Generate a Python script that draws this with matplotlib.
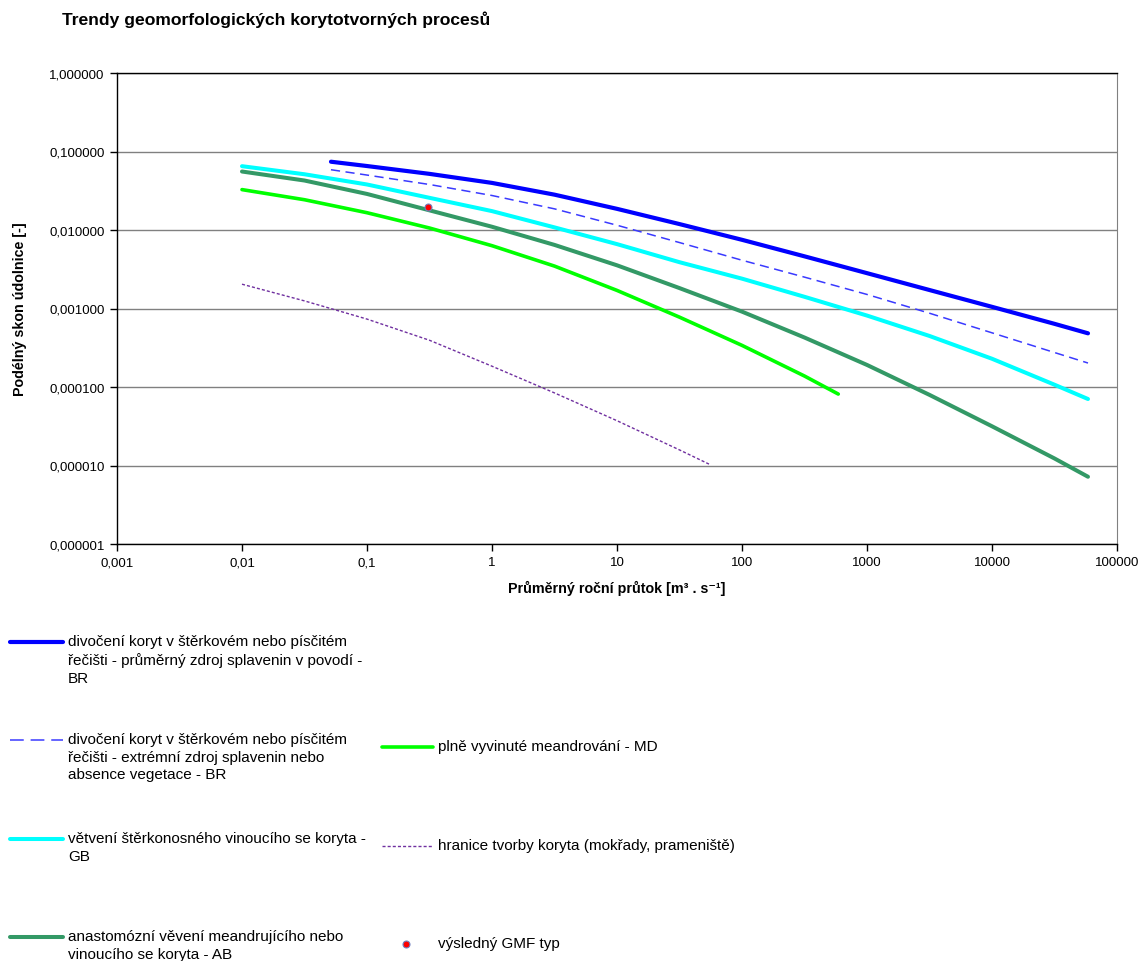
import matplotlib
matplotlib.use('Agg')
import matplotlib.pyplot as plt
from matplotlib.lines import Line2D
from matplotlib.ticker import NullLocator

plt.rcParams['font.family'] = ['Liberation Sans', 'DejaVu Sans']

# ---------------- data ----------------
x_br = [0.0515, 0.1, 0.316, 1, 3.16, 10, 31.6, 100, 316, 1000, 3160, 10000, 31600, 58600]
y_br_avg = [0.0741, 0.0653, 0.0519, 0.0398, 0.0282, 0.0186, 0.0119, 0.0075, 0.00462,
            0.00282, 0.00172, 0.00105, 0.000638, 0.000483]
y_br_ext = [0.0586, 0.0501, 0.0380, 0.0275, 0.0186, 0.0115, 0.00692, 0.00412, 0.00251,
            0.00151, 0.000871, 0.000490, 0.000275, 0.000202]

x_long = [0.01, 0.0316, 0.1, 0.316, 1, 3.16, 10, 31.6, 100, 316, 1000, 3160, 10000, 31600, 58600]
y_gb = [0.0650, 0.0513, 0.0380, 0.0257, 0.0174, 0.0108, 0.00661, 0.00389, 0.00240,
        0.00141, 0.000813, 0.000447, 0.000229, 0.000107, 0.0000703]
y_ab = [0.0556, 0.0427, 0.0288, 0.0178, 0.0110, 0.00646, 0.00355, 0.00182, 0.000912,
        0.000427, 0.000191, 0.0000794, 0.0000316, 0.0000123, 0.00000719]

x_md = [0.01, 0.0316, 0.1, 0.316, 1, 3.16, 10, 31.6, 100, 316, 589]
y_md = [0.0327, 0.0243, 0.0166, 0.0106, 0.00631, 0.00347, 0.00170, 0.000776,
        0.000339, 0.000138, 0.0000813]

x_lim = [0.01, 0.0316, 0.1, 0.316, 1, 3.16, 10, 31.6, 56]
y_lim = [0.00204, 0.00125, 0.000733, 0.000394, 0.000184, 0.0000841, 0.0000372,
         0.0000158, 0.0000102]

gmf_x = [0.31]
gmf_y = [0.0198]

x_ticks = [0.001, 0.01, 0.1, 1, 10, 100, 1000, 10000, 100000]
x_tick_labels = ['0,001', '0,01', '0,1', '1', '10', '100', '1000', '10000', '100000']
y_ticks = [1e-6, 1e-5, 1e-4, 1e-3, 1e-2, 1e-1, 1]
y_tick_labels = ['0,000001', '0,000010', '0,000100', '0,001000', '0,010000', '0,100000', '1,000000']

labels = [
    'divočení koryt v štěrkovém nebo písčitém\nřečišti - průměrný zdroj splavenin v povodí -\nBR',
    'divočení koryt v štěrkovém nebo písčitém\nřečišti - extrémní zdroj splavenin nebo\nabsence vegetace - BR',
    'větvení štěrkonosného vinoucího se koryta -\nGB',
    'anastomózní věvení meandrujícího nebo\nvinoucího se koryta - AB',
    'plně vyvinuté meandrování - MD',
    'hranice tvorby koryta (mokřady, prameniště)',
    'výsledný GMF typ',
]

# ---------------- styles ----------------
styles = [
    dict(color='#0000FF', lw=3.0, solid_capstyle='round'),
    dict(color='#3A3AFF', lw=1.1, dashes=(6.0, 3.6)),
    dict(color='#00FFFF', lw=2.9, solid_capstyle='round'),
    dict(color='#339966', lw=2.9, solid_capstyle='round'),
    dict(color='#00FF00', lw=2.6, solid_capstyle='round'),
    dict(color='#7030A0', lw=1.0, dashes=(2.2, 1.5)),
]
legend_dashes = {1: (9.0, 4.5)}
dot_style = dict(marker='o', ls='none', ms=5, mfc='#FF0000', mec='#7080C0', mew=0.8)

W, H = 1144, 962
fig = plt.figure(figsize=(W / 100, H / 100), dpi=100)


def fx(px):
    return px / W


def fy(py):
    return 1 - py / H


ax = fig.add_axes([fx(117), fy(545), (1117 - 117) / W, (545 - 74) / H])
ax.set_xscale('log')
ax.set_yscale('log')
ax.set_xlim(x_ticks[0], x_ticks[-1])
ax.set_ylim(y_ticks[0], y_ticks[-1])

series = [(x_br, y_br_avg), (x_br, y_br_ext), (x_long, y_gb), (x_long, y_ab),
          (x_md, y_md), (x_lim, y_lim)]
for (xs, ys), st in zip(series, styles):
    ax.plot(xs, ys, **st, zorder=3)
ax.plot(gmf_x, gmf_y, **dot_style, zorder=4)

ax.set_xticks(x_ticks)
ax.set_xticklabels(x_tick_labels)
ax.set_yticks(y_ticks)
ax.set_yticklabels(y_tick_labels)
ax.xaxis.set_minor_locator(NullLocator())
ax.yaxis.set_minor_locator(NullLocator())
ax.tick_params(axis='both', direction='out', length=5, width=1, color='#000000',
               labelsize=9.5, pad=4)
ax.yaxis.grid(True, color='#808080', lw=1.0)
ax.set_axisbelow(True)
for s in ['left', 'bottom', 'top']:
    ax.spines[s].set_color('#000000')
    ax.spines[s].set_linewidth(1.0)
ax.spines['right'].set_color('#808080')

ax.set_xlabel('Průměrný roční průtok [m³ . s⁻¹]', fontsize=10.3, fontweight='bold', labelpad=8)
ax.set_ylabel('Podélný skon údolnice [-]', fontsize=10.3, fontweight='bold', labelpad=16)

fig.text(fx(62), fy(20), 'Trendy geomorfologických korytotvorných procesů',
         fontsize=12.6, fontweight='bold', va='center', ha='left')

# ---------------- legend (manual layout) ----------------
fs = 11
entries = [
    # (style index, line x0, line x1, y, text x)
    (0, 10, 63, 643, 68),
    (1, 10, 63, 741, 68),
    (2, 10, 63, 840, 68),
    (3, 10, 63, 938, 68),
    (4, 382, 433, 748, 438),
    (5, 382, 433, 847, 438),
]
for idx, x0, x1, y, tx in entries:
    st = dict(styles[idx])
    if idx in legend_dashes:
        st['dashes'] = legend_dashes[idx]
    fig.add_artist(Line2D([fx(x0), fx(x1)], [fy(y), fy(y)], transform=fig.transFigure, **st))
    fig.text(fx(tx), fy(y - 8), labels[idx], fontsize=fs, va='top', ha='left', linespacing=1.34)

fig.add_artist(Line2D([fx(406)], [fy(945)], transform=fig.transFigure, **dot_style))
fig.text(fx(438), fy(945 - 8), labels[6], fontsize=fs, va='top', ha='left')

fig.savefig('out.png', dpi=100)
